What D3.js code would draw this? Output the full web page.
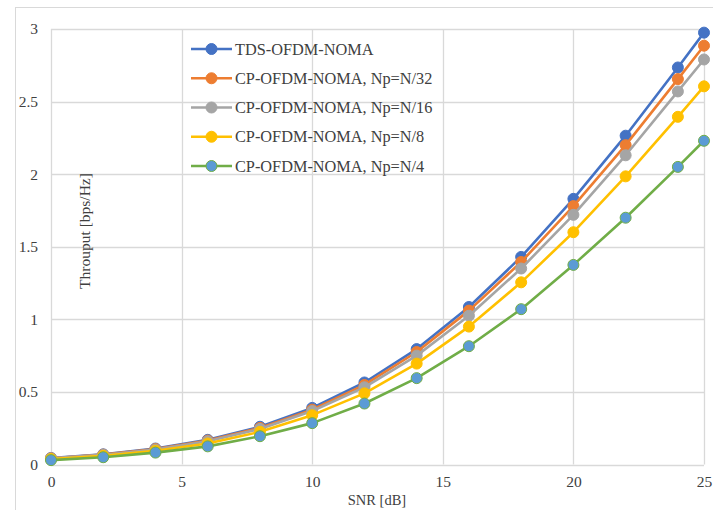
<!DOCTYPE html>
<html>
<head>
<meta charset="utf-8">
<script src="https://cdn.jsdelivr.net/npm/d3@7/dist/d3.min.js"></script>
<style>
  html, body { margin: 0; padding: 0; background: #fff; }
  svg text { font-family: "Liberation Serif", "DejaVu Serif", serif; fill: #404040; }
</style>
</head>
<body>
<svg id="chart" width="713" height="510"></svg>
<script>
// SNR sample points (dB)
const snr = [0, 2, 4, 6, 8, 10, 12, 14, 16, 18, 20, 22, 24, 25];

// Throughput per scheme (bps/Hz)
const tdsOfdm   = [0.045, 0.07, 0.11, 0.17, 0.26, 0.39, 0.565, 0.795, 1.085, 1.43, 1.83, 2.265, 2.735, 2.975];
const cpN32     = [0.043, 0.068, 0.107, 0.165, 0.252, 0.378, 0.548, 0.775, 1.06, 1.395, 1.78, 2.2, 2.655, 2.885];
const cpN16     = [0.042, 0.066, 0.103, 0.16, 0.245, 0.368, 0.532, 0.75, 1.025, 1.35, 1.72, 2.13, 2.57, 2.79];
const cpN8      = [0.038, 0.06, 0.095, 0.145, 0.225, 0.34, 0.49, 0.695, 0.95, 1.255, 1.6, 1.985, 2.395, 2.605];
const cpN4      = [0.03, 0.05, 0.082, 0.125, 0.195, 0.285, 0.42, 0.595, 0.815, 1.07, 1.375, 1.7, 2.05, 2.23];

const seriesNames = ["TDS-OFDM-NOMA", "CP-OFDM-NOMA, Np=N/32", "CP-OFDM-NOMA, Np=N/16", "CP-OFDM-NOMA, Np=N/8", "CP-OFDM-NOMA, Np=N/4"];
const seriesValues = [tdsOfdm, cpN32, cpN16, cpN8, cpN4];
const lineColors = ["#4472C4", "#ED7D31", "#A5A5A5", "#FFC000", "#70AD47"];
const markerFills = ["#4472C4", "#ED7D31", "#A5A5A5", "#FFC000", "#5B9BD5"];

const xTicks = [0, 5, 10, 15, 20, 25];
const yTicks = [0, 0.5, 1, 1.5, 2, 2.5, 3];

const svg = d3.select("#chart");
const W = 713, H = 510;
const plot = { left: 51, right: 704, top: 29, bottom: 464.5 };

// chart frame
svg.append("rect")
  .attr("x", 15.5).attr("y", 7.5)
  .attr("width", W - 15).attr("height", H - 7)
  .attr("fill", "#fff").attr("stroke", "#d9d9d9").attr("stroke-width", 1);

const x = d3.scaleLinear().domain([0, 25]).range([plot.left, plot.right]);
const y = d3.scaleLinear().domain([0, 3]).range([plot.bottom, plot.top]);

// gridlines
const grid = svg.append("g");
grid.selectAll(".hg").data(yTicks).join("line")
  .attr("x1", plot.left).attr("x2", plot.right)
  .attr("y1", d => Math.round(y(d)) + 0.5).attr("y2", d => Math.round(y(d)) + 0.5)
  .attr("stroke", "#d9d9d9").attr("stroke-width", 1.3);
grid.selectAll(".vg").data(xTicks).join("line")
  .attr("y1", plot.top).attr("y2", plot.bottom)
  .attr("x1", d => Math.round(x(d)) + 0.5).attr("x2", d => Math.round(x(d)) + 0.5)
  .attr("stroke", "#d9d9d9").attr("stroke-width", 1.3);

// axes (labels only, lines come from the grid)
const xAxis = svg.append("g")
  .attr("transform", `translate(0,${plot.bottom})`)
  .call(d3.axisBottom(x).tickValues(xTicks).tickSize(0).tickPadding(11).tickFormat(d3.format("d")));
const yAxis = svg.append("g")
  .attr("transform", `translate(${plot.left},0)`)
  .call(d3.axisLeft(y).tickValues(yTicks).tickSize(0).tickPadding(13).tickFormat(d => String(d)));
[xAxis, yAxis].forEach(a => {
  a.select(".domain").remove();
  a.selectAll("text").attr("font-size", 15.5).attr("fill", "#404040")
    .attr("font-family", "Liberation Serif, serif");
});

// axis titles
svg.append("text")
  .attr("x", 377).attr("y", 505)
  .attr("text-anchor", "middle").attr("font-size", 14.5)
  .text("SNR [dB]");
svg.append("text")
  .attr("transform", "translate(90,231) rotate(-90)")
  .attr("text-anchor", "middle").attr("font-size", 15.5)
  .text("Throuput [bps/Hz]");

// series
const line = d3.line().x((d, i) => x(snr[i])).y(d => y(d));
seriesValues.forEach((vals, s) => {
  const g = svg.append("g");
  g.append("path").datum(vals)
    .attr("d", line).attr("fill", "none")
    .attr("stroke", lineColors[s]).attr("stroke-width", 2.6)
    .attr("stroke-linejoin", "round");
  g.selectAll("circle").data(vals).join("circle")
    .attr("cx", (d, i) => x(snr[i])).attr("cy", d => y(d))
    .attr("r", 5.5)
    .attr("fill", markerFills[s])
    .attr("stroke", lineColors[s]).attr("stroke-width", 1);
});

// legend
const legend = svg.append("g");
seriesNames.forEach((name, s) => {
  const ly = 49 + s * 29.25;
  legend.append("line")
    .attr("x1", 191).attr("x2", 232).attr("y1", ly).attr("y2", ly)
    .attr("stroke", lineColors[s]).attr("stroke-width", 2.6);
  legend.append("circle")
    .attr("cx", 211.5).attr("cy", ly).attr("r", 5.5)
    .attr("fill", markerFills[s]).attr("stroke", lineColors[s]).attr("stroke-width", 1);
  legend.append("text")
    .attr("x", 235).attr("y", ly + 5.5)
    .attr("font-size", 16.3)
    .text(name);
});
</script>
</body>
</html>
